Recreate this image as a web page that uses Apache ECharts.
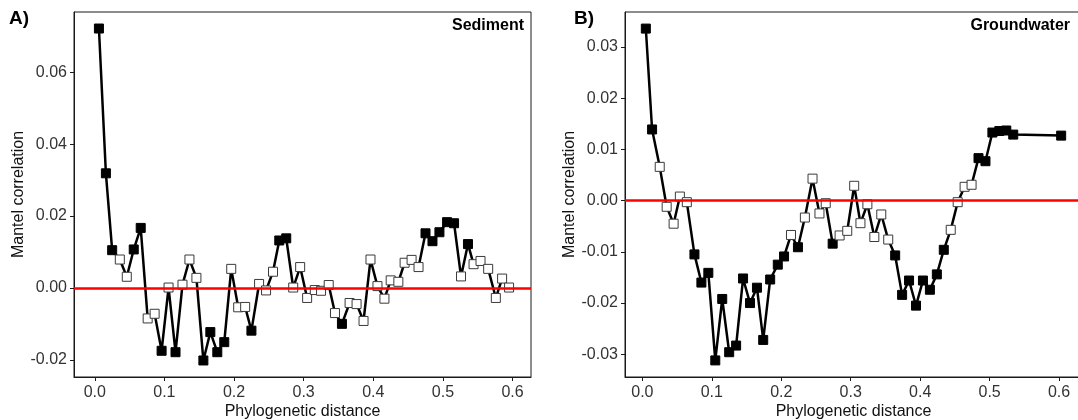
<!DOCTYPE html>
<html>
<head>
<meta charset="utf-8">
<script src="https://cdn.jsdelivr.net/npm/echarts@6/dist/echarts.min.js"></script>
<style>
  html, body { margin: 0; padding: 0; background: #fff; }
  #chart { width: 1078px; height: 420px; }
</style>
</head>
<body>
<div id="chart"></div>
<script>
// Mantel correlogram, sediment communities
const sedimentDistance = [
  0.006, 0.016, 0.025, 0.036, 0.046, 0.056, 0.066, 0.076, 0.086, 0.096,
  0.106, 0.116, 0.126, 0.136, 0.146, 0.156, 0.166, 0.176, 0.186, 0.196,
  0.206, 0.216, 0.225, 0.236, 0.246, 0.256, 0.265, 0.275, 0.285, 0.295,
  0.305, 0.316, 0.325, 0.336, 0.345, 0.355, 0.366, 0.376, 0.386, 0.396,
  0.406, 0.416, 0.425, 0.436, 0.445, 0.455, 0.465, 0.475, 0.485, 0.495,
  0.506, 0.516, 0.526, 0.536, 0.544, 0.554, 0.565, 0.576, 0.585, 0.595
];
const sedimentCorrelation = [
  0.0722, 0.0319, 0.0105, 0.0079, 0.0031, 0.0107, 0.0167, -0.0085, -0.0072, -0.0175,
  0.0001, -0.0179, 0.0009, 0.0079, 0.0028, -0.0202, -0.0123, -0.0179, -0.0151, 0.0053,
  -0.0054, -0.0053, -0.0119, 0.0011, -0.0007, 0.0045, 0.0132, 0.0138, 0.0001, 0.0058,
  -0.0028, -0.0006, -0.0008, 0.0008, -0.0070, -0.0100, -0.0042, -0.0045, -0.0092, 0.0079,
  0.0005, -0.0030, 0.0021, 0.0017, 0.0070, 0.0078, 0.0058, 0.0152, 0.0130, 0.0155,
  0.0183, 0.0180, 0.0032, 0.0122, 0.0066, 0.0075, 0.0053, -0.0028, 0.0026, 0.0001
];
// 1 = significant distance class (filled square), 0 = not significant (open square)
const sedimentSignificant = [
  1, 1, 1, 0, 0, 1, 1, 0, 0, 1,
  0, 1, 0, 0, 0, 1, 1, 1, 1, 0,
  0, 0, 1, 0, 0, 0, 1, 1, 0, 0,
  0, 0, 0, 0, 0, 1, 0, 0, 0, 0,
  0, 0, 0, 0, 0, 0, 0, 1, 1, 1,
  1, 1, 0, 1, 0, 0, 0, 0, 0, 0
];

// Mantel correlogram, groundwater communities
const groundwaterDistance = [
  0.005, 0.014, 0.025, 0.035, 0.045, 0.054, 0.064, 0.075, 0.085, 0.095,
  0.105, 0.115, 0.125, 0.135, 0.145, 0.155, 0.165, 0.174, 0.184, 0.195,
  0.204, 0.214, 0.224, 0.234, 0.245, 0.255, 0.264, 0.274, 0.284, 0.295,
  0.305, 0.314, 0.324, 0.334, 0.344, 0.354, 0.364, 0.374, 0.384, 0.394,
  0.404, 0.414, 0.424, 0.434, 0.444, 0.454, 0.464, 0.474, 0.484, 0.494,
  0.504, 0.514, 0.524, 0.534, 0.603
];
const groundwaterCorrelation = [
  0.0336, 0.0139, 0.0066, -0.0012, -0.0045, 0.0008, -0.0003, -0.0105, -0.0160, -0.0141,
  -0.0312, -0.0192, -0.0296, -0.0283, -0.0152, -0.0200, -0.0170, -0.0272, -0.0154, -0.0125,
  -0.0109, -0.0067, -0.0091, -0.0033, 0.0043, -0.0025, -0.0005, -0.0084, -0.0068, -0.0059,
  0.0029, -0.0044, -0.0007, -0.0071, -0.0027, -0.0076, -0.0107, -0.0184, -0.0156, -0.0205,
  -0.0156, -0.0174, -0.0144, -0.0096, -0.0057, -0.0003, 0.0027, 0.0031, 0.0083, 0.0077,
  0.0133, 0.0136, 0.0137, 0.0129, 0.0127
];
const groundwaterSignificant = [
  1, 1, 0, 0, 0, 0, 0, 1, 1, 1,
  1, 1, 1, 1, 1, 1, 1, 1, 1, 1,
  1, 0, 1, 0, 0, 0, 0, 1, 0, 0,
  0, 0, 0, 0, 0, 0, 1, 1, 1, 1,
  1, 1, 1, 1, 0, 0, 0, 0, 1, 1,
  1, 1, 1, 1, 1
];

// Axis ticks
const distanceTicks = [0, 0.1, 0.2, 0.3, 0.4, 0.5, 0.6];
const sedimentTicks = [-0.02, 0, 0.02, 0.04, 0.06];
const groundwaterTicks = [-0.03, -0.02, -0.01, 0, 0.01, 0.02, 0.03];

const FONT = '"Liberation Sans", Arial, Helvetica, sans-serif';
const AXIS_COLOR = '#1a1a1a';
const LABEL_COLOR = '#333333';

function points(xs, ys, sig) {
  return xs.map((x, i) => ({
    value: [x, ys[i]],
    itemStyle: sig[i]
      ? { color: '#000000', borderColor: '#000000' }
      : { color: '#ffffff', borderColor: '#3a3a3a' }
  }));
}

function xAxis(gridIndex, min, max) {
  return {
    type: 'value', gridIndex, min, max,
    name: 'Phylogenetic distance', nameLocation: 'middle', nameGap: 27, nameMoveOverlap: false,
    nameTextStyle: { fontFamily: FONT, fontSize: 16, color: '#111' },
    axisLine: { show: true, onZero: false, lineStyle: { color: AXIS_COLOR, width: 1 } },
    axisTick: { show: true, customValues: distanceTicks, length: 4, lineStyle: { color: AXIS_COLOR } },
    axisLabel: {
      customValues: distanceTicks, margin: 8,
      fontFamily: FONT, fontSize: 16, color: LABEL_COLOR,
      formatter: v => v.toFixed(1)
    },
    splitLine: { show: false }
  };
}

function yAxis(gridIndex, min, max, ticks) {
  return {
    type: 'value', gridIndex, min, max,
    name: 'Mantel correlation', nameLocation: 'middle', nameGap: 47, nameMoveOverlap: false,
    nameTextStyle: { fontFamily: FONT, fontSize: 16, color: '#111' },
    axisLine: { show: true, onZero: false, lineStyle: { color: AXIS_COLOR, width: 1 } },
    axisTick: { show: true, customValues: ticks, length: 4, lineStyle: { color: AXIS_COLOR } },
    axisLabel: {
      customValues: ticks, margin: 7,
      fontFamily: FONT, fontSize: 16, color: LABEL_COLOR,
      formatter: v => v.toFixed(2)
    },
    splitLine: { show: false }
  };
}

function zeroLine(index) {
  return {
    type: 'line', xAxisIndex: index, yAxisIndex: index, data: [], z: 1,
    markLine: {
      silent: true, symbol: 'none', label: { show: false },
      lineStyle: { color: '#ff0000', width: 2.5, type: 'solid' },
      data: [{ yAxis: 0 }]
    }
  };
}

function correlogram(index, data) {
  return {
    type: 'line', xAxisIndex: index, yAxisIndex: index, z: 3,
    data,
    showAllSymbol: true,
    symbol: 'rect', symbolSize: 9,
    lineStyle: { color: '#000000', width: 2.5 },
    itemStyle: { borderWidth: 1 },
    emphasis: { disabled: true },
    animation: false
  };
}

const chart = echarts.init(document.getElementById('chart'), null, { renderer: 'canvas' });
chart.setOption({
  animation: false,
  backgroundColor: '#ffffff',
  title: [
    { text: 'A)', left: 9, top: 9, padding: 0,
      textStyle: { fontFamily: FONT, fontSize: 19, fontWeight: 'bold', color: '#000' } },
    { text: 'Sediment', right: 1078 - 524, top: 18, padding: 0,
      textStyle: { fontFamily: FONT, fontSize: 16, fontWeight: 'bold', color: '#000' } },
    { text: 'B)', left: 574, top: 9, padding: 0,
      textStyle: { fontFamily: FONT, fontSize: 19, fontWeight: 'bold', color: '#000' } },
    { text: 'Groundwater', right: 8, top: 18, padding: 0,
      textStyle: { fontFamily: FONT, fontSize: 16, fontWeight: 'bold', color: '#000' } }
  ],
  grid: [
    { left: 74, top: 12, width: 457, height: 365, outerBoundsMode: 'none', containLabel: false,
      show: true, borderColor: AXIS_COLOR, borderWidth: 1, backgroundColor: 'transparent' },
    { left: 625, top: 12, width: 457, height: 365, outerBoundsMode: 'none', containLabel: false,
      show: true, borderColor: AXIS_COLOR, borderWidth: 1, backgroundColor: 'transparent' }
  ],
  xAxis: [
    xAxis(0, -0.0298, 0.6265),
    xAxis(1, -0.025, 0.633)
  ],
  yAxis: [
    yAxis(0, -0.0248, 0.0768, sedimentTicks),
    yAxis(1, -0.03444, 0.03684, groundwaterTicks)
  ],
  series: [
    zeroLine(0),
    zeroLine(1),
    correlogram(0, points(sedimentDistance, sedimentCorrelation, sedimentSignificant)),
    correlogram(1, points(groundwaterDistance, groundwaterCorrelation, groundwaterSignificant))
  ]
});
</script>
</body>
</html>
